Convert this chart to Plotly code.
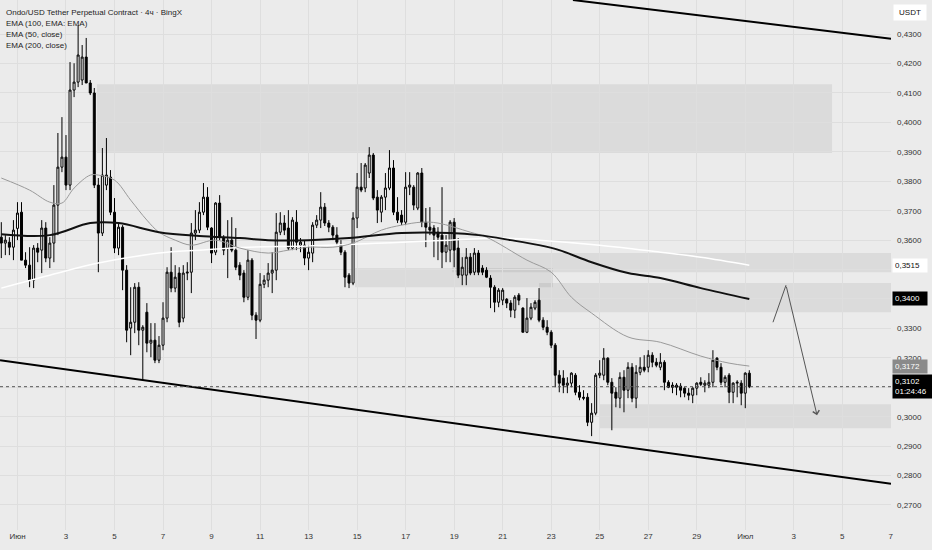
import pandas as pd
import plotly.graph_objects as go

# ONDO/USDT 4h candles (31 May 08:00 -> 1 Jul 04:00)
opens = [0.3610, 0.3590, 0.3593, 0.3576, 0.3640, 0.3695, 0.3532, 0.3515, 0.3464, 0.3573,
         0.3566, 0.3641, 0.3539, 0.3590, 0.3719, 0.3848, 0.3882, 0.3787, 0.4110, 0.4137,
         0.4144, 0.4222, 0.4134, 0.4100, 0.3787, 0.3624, 0.3787, 0.3814, 0.3695, 0.3573,
         0.3644, 0.3498, 0.3301, 0.3321, 0.3440, 0.3294, 0.3355, 0.3250, 0.3260, 0.3192,
         0.3243, 0.3335, 0.3491, 0.3437, 0.3488, 0.3335, 0.3488, 0.3491, 0.3624, 0.3634,
         0.3695, 0.3746, 0.3641, 0.3559, 0.3726, 0.3607, 0.3573, 0.3600, 0.3566, 0.3515,
         0.3488, 0.3406, 0.3532, 0.3345, 0.3328, 0.3450, 0.3464, 0.3488, 0.3498, 0.3627,
         0.3658, 0.3641, 0.3573, 0.3661, 0.3583, 0.3583, 0.3539, 0.3556, 0.3651, 0.3668,
         0.3712, 0.3658, 0.3644, 0.3617, 0.3583, 0.3559, 0.3481, 0.3454, 0.3675, 0.3780,
         0.3777, 0.3828, 0.3889, 0.3746, 0.3695, 0.3746, 0.3777, 0.3845, 0.3695, 0.3685,
         0.3661, 0.3780, 0.3780, 0.3709, 0.3828, 0.3661, 0.3644, 0.3641, 0.3627, 0.3617,
         0.3559, 0.3566, 0.3661, 0.3573, 0.3481, 0.3481, 0.3542, 0.3491, 0.3556, 0.3505,
         0.3498, 0.3471, 0.3440, 0.3389, 0.3396, 0.3399, 0.3386, 0.3362, 0.3413, 0.3369,
         0.3287, 0.3335, 0.3369, 0.3396, 0.3328, 0.3304, 0.3287, 0.3243, 0.3141, 0.3131,
         0.3107, 0.3114, 0.3141, 0.3083, 0.3066, 0.3066, 0.2981, 0.3012, 0.3141, 0.3141,
         0.3199, 0.3117, 0.3083, 0.3063, 0.3134, 0.3090, 0.3168, 0.3063, 0.3151, 0.3168,
         0.3168, 0.3209, 0.3185, 0.3168, 0.3185, 0.3117, 0.3107, 0.3100, 0.3104, 0.3097,
         0.3080, 0.3073, 0.3097, 0.3117, 0.3107, 0.3107, 0.3117, 0.3199, 0.3168, 0.3117,
         0.3141, 0.3083, 0.3114, 0.3114, 0.3080, 0.3148]
highs = [0.3661, 0.3617, 0.3610, 0.3668, 0.3729, 0.3729, 0.3559, 0.3576, 0.3583, 0.3590,
         0.3668, 0.3661, 0.3610, 0.3787, 0.3964, 0.4018, 0.3957, 0.4205, 0.4201, 0.4331,
         0.4263, 0.4287, 0.4144, 0.4117, 0.3811, 0.3913, 0.3947, 0.3838, 0.3743, 0.3661,
         0.3651, 0.3515, 0.3440, 0.3454, 0.3457, 0.3311, 0.3386, 0.3318, 0.3318, 0.3274,
         0.3389, 0.3508, 0.3576, 0.3515, 0.3508, 0.3515, 0.3525, 0.3658, 0.3702, 0.3729,
         0.3794, 0.3780, 0.3644, 0.3729, 0.3753, 0.3617, 0.3668, 0.3678, 0.3641, 0.3525,
         0.3498, 0.3566, 0.3539, 0.3355, 0.3488, 0.3481, 0.3522, 0.3559, 0.3692, 0.3695,
         0.3685, 0.3702, 0.3678, 0.3702, 0.3607, 0.3600, 0.3583, 0.3661, 0.3685, 0.3763,
         0.3726, 0.3668, 0.3651, 0.3644, 0.3600, 0.3566, 0.3488, 0.3695, 0.3828, 0.3862,
         0.3862, 0.3916, 0.3896, 0.3770, 0.3753, 0.3828, 0.3906, 0.3872, 0.3746, 0.3702,
         0.3831, 0.3831, 0.3787, 0.3831, 0.3845, 0.3709, 0.3712, 0.3651, 0.3644, 0.3780,
         0.3617, 0.3668, 0.3675, 0.3607, 0.3542, 0.3573, 0.3556, 0.3573, 0.3566, 0.3515,
         0.3508, 0.3481, 0.3447, 0.3437, 0.3437, 0.3403, 0.3396, 0.3413, 0.3420, 0.3372,
         0.3403, 0.3386, 0.3396, 0.3437, 0.3338, 0.3328, 0.3294, 0.3250, 0.3158, 0.3158,
         0.3134, 0.3151, 0.3148, 0.3107, 0.3090, 0.3080, 0.3046, 0.3148, 0.3192, 0.3233,
         0.3202, 0.3131, 0.3100, 0.3151, 0.3158, 0.3185, 0.3182, 0.3175, 0.3202, 0.3209,
         0.3226, 0.3219, 0.3199, 0.3216, 0.3192, 0.3124, 0.3117, 0.3114, 0.3114, 0.3100,
         0.3097, 0.3100, 0.3117, 0.3134, 0.3124, 0.3148, 0.3226, 0.3202, 0.3182, 0.3141,
         0.3148, 0.3117, 0.3124, 0.3124, 0.3151, 0.3158]
lows = [0.3539, 0.3549, 0.3549, 0.3532, 0.3600, 0.3532, 0.3505, 0.3440, 0.3437, 0.3525,
        0.3488, 0.3525, 0.3505, 0.3525, 0.3617, 0.3831, 0.3770, 0.3770, 0.4086, 0.4120,
        0.4127, 0.4134, 0.4093, 0.3777, 0.3491, 0.3614, 0.3770, 0.3685, 0.3556, 0.3549,
        0.3430, 0.3253, 0.3209, 0.3284, 0.3243, 0.3124, 0.3219, 0.3202, 0.3182, 0.3182,
        0.3226, 0.3321, 0.3423, 0.3423, 0.3304, 0.3321, 0.3464, 0.3420, 0.3600, 0.3624,
        0.3685, 0.3634, 0.3522, 0.3549, 0.3600, 0.3549, 0.3471, 0.3559, 0.3498, 0.3464,
        0.3389, 0.3396, 0.3328, 0.3264, 0.3321, 0.3437, 0.3440, 0.3420, 0.3464, 0.3617,
        0.3617, 0.3566, 0.3566, 0.3566, 0.3559, 0.3515, 0.3498, 0.3525, 0.3641, 0.3641,
        0.3648, 0.3627, 0.3600, 0.3583, 0.3549, 0.3440, 0.3437, 0.3447, 0.3641, 0.3763,
        0.3763, 0.3811, 0.3736, 0.3658, 0.3661, 0.3702, 0.3770, 0.3685, 0.3658, 0.3651,
        0.3651, 0.3753, 0.3702, 0.3702, 0.3644, 0.3576, 0.3617, 0.3542, 0.3532, 0.3505,
        0.3525, 0.3525, 0.3508, 0.3471, 0.3447, 0.3447, 0.3481, 0.3481, 0.3481, 0.3481,
        0.3471, 0.3369, 0.3355, 0.3372, 0.3379, 0.3369, 0.3338, 0.3335, 0.3379, 0.3287,
        0.3284, 0.3328, 0.3362, 0.3321, 0.3294, 0.3277, 0.3233, 0.3100, 0.3083, 0.3080,
        0.3080, 0.3100, 0.3073, 0.3056, 0.3056, 0.2968, 0.2934, 0.3005, 0.3131, 0.3124,
        0.3107, 0.2954, 0.3032, 0.3029, 0.3015, 0.3063, 0.3049, 0.3029, 0.3141, 0.3151,
        0.3151, 0.3168, 0.3168, 0.3158, 0.3090, 0.3097, 0.3080, 0.3073, 0.3066, 0.3066,
        0.3056, 0.3046, 0.3073, 0.3104, 0.3083, 0.3097, 0.3100, 0.3158, 0.3107, 0.3100,
        0.3046, 0.3046, 0.3066, 0.3039, 0.3029, 0.3097]
closes = [0.3590, 0.3600, 0.3576, 0.3634, 0.3692, 0.3532, 0.3515, 0.3464, 0.3573, 0.3559,
          0.3641, 0.3539, 0.3590, 0.3719, 0.3848, 0.3882, 0.3787, 0.4110, 0.4137, 0.4229,
          0.4222, 0.4134, 0.4100, 0.3787, 0.3624, 0.3821, 0.3821, 0.3695, 0.3573, 0.3644,
          0.3498, 0.3294, 0.3321, 0.3440, 0.3294, 0.3304, 0.3250, 0.3260, 0.3192, 0.3243,
          0.3335, 0.3491, 0.3437, 0.3474, 0.3321, 0.3488, 0.3491, 0.3624, 0.3634, 0.3695,
          0.3746, 0.3644, 0.3556, 0.3726, 0.3610, 0.3566, 0.3600, 0.3566, 0.3508, 0.3481,
          0.3406, 0.3532, 0.3345, 0.3328, 0.3450, 0.3464, 0.3488, 0.3498, 0.3627, 0.3658,
          0.3634, 0.3573, 0.3668, 0.3593, 0.3593, 0.3539, 0.3559, 0.3651, 0.3668, 0.3712,
          0.3658, 0.3644, 0.3617, 0.3593, 0.3559, 0.3474, 0.3454, 0.3675, 0.3780, 0.3770,
          0.3855, 0.3889, 0.3743, 0.3702, 0.3746, 0.3777, 0.3845, 0.3695, 0.3668, 0.3661,
          0.3780, 0.3787, 0.3719, 0.3828, 0.3661, 0.3644, 0.3634, 0.3617, 0.3610, 0.3559,
          0.3583, 0.3661, 0.3566, 0.3481, 0.3508, 0.3542, 0.3488, 0.3556, 0.3491, 0.3491,
          0.3474, 0.3440, 0.3389, 0.3430, 0.3430, 0.3386, 0.3362, 0.3406, 0.3396, 0.3287,
          0.3335, 0.3372, 0.3389, 0.3328, 0.3304, 0.3287, 0.3243, 0.3141, 0.3114, 0.3107,
          0.3114, 0.3148, 0.3083, 0.3066, 0.3063, 0.2981, 0.3012, 0.3141, 0.3148, 0.3199,
          0.3117, 0.3080, 0.3063, 0.3134, 0.3090, 0.3168, 0.3063, 0.3151, 0.3168, 0.3158,
          0.3209, 0.3185, 0.3175, 0.3185, 0.3117, 0.3100, 0.3100, 0.3107, 0.3090, 0.3080,
          0.3073, 0.3097, 0.3114, 0.3110, 0.3114, 0.3117, 0.3192, 0.3168, 0.3117, 0.3134,
          0.3083, 0.3114, 0.3117, 0.3080, 0.3148, 0.3102]

times = pd.date_range("2025-05-31 08:00", periods=len(closes), freq="4h")

# moving averages, sampled at candle indices
ema100_idx = [0, 12, 22, 29, 39, 49, 59, 66, 76, 86, 99, 111, 118, 126, 133, 138, 146, 155, 163, 173, 185]
ema100_val = [0.3620, 0.3617, 0.3658, 0.3658, 0.3627, 0.3614, 0.3607, 0.3600, 0.3600, 0.3607, 0.3624,
              0.3624, 0.3617, 0.3600, 0.3583, 0.3566, 0.3525, 0.3488, 0.3471, 0.3437, 0.3400]
ema50_idx = [0, 7, 12, 15, 18, 22, 24, 28, 32, 36, 39, 43, 47, 53, 59, 66, 71, 76, 82, 87, 94, 99,
             104, 108, 116, 120, 130, 136, 141, 146, 155, 163, 173, 180, 185]
ema50_val = [0.3811, 0.3770, 0.3729, 0.3726, 0.3777, 0.3821, 0.3821, 0.3804, 0.3736, 0.3668, 0.3627,
             0.3600, 0.3583, 0.3600, 0.3573, 0.3556, 0.3566, 0.3576, 0.3576, 0.3590, 0.3634, 0.3651,
             0.3661, 0.3658, 0.3627, 0.3610, 0.3532, 0.3491, 0.3406, 0.3352, 0.3271, 0.3253, 0.3206,
             0.3182, 0.3172]
ema200_idx = [0, 12, 24, 39, 49, 61, 76, 99, 111, 123, 133, 148, 163, 173, 185]
ema200_val = [0.3437, 0.3481, 0.3522, 0.3556, 0.3566, 0.3576, 0.3580, 0.3593, 0.3600, 0.3607, 0.3600,
              0.3583, 0.3559, 0.3542, 0.3515]

# drawings: channel lines, zones, projection arrow
channel_top = (["2025-06-23 21:30", "2025-07-07 00:10"], [0.4416, 0.4284])
channel_bottom = (["2025-05-31 06:43", "2025-07-07 00:10"], [0.3192, 0.2772])
zone_x0 = ["2025-06-04 06:36", "2025-06-18 21:48", "2025-06-14 21:54", "2025-06-22 11:54", "2025-06-25 00:12"]
zone_x1 = ["2025-07-04 13:54", "2025-07-07 06:00", "2025-06-23 01:48", "2025-07-07 06:00", "2025-07-07 06:00"]
zone_y0 = [0.3896, 0.3491, 0.3440, 0.3355, 0.2961]
zone_y1 = [0.4130, 0.3556, 0.3505, 0.3454, 0.3042]
arrow_x = ["2025-07-02 03:25", "2025-07-02 16:18", "2025-07-03 23:00"]
arrow_y = [0.3321, 0.3447, 0.3005]

last_price = 0.3102
price_ticks = [0.27, 0.28, 0.29, 0.30, 0.31, 0.32, 0.33, 0.34, 0.35, 0.36,
               0.37, 0.38, 0.39, 0.40, 0.41, 0.42, 0.43]
# levels hidden behind the price badges on the scale
covered_ticks = [0.31, 0.34, 0.35]
day_ticks = ["2025-06-01", "2025-06-03", "2025-06-05", "2025-06-07", "2025-06-09", "2025-06-11",
             "2025-06-13", "2025-06-15", "2025-06-17", "2025-06-19", "2025-06-21", "2025-06-23",
             "2025-06-25", "2025-06-27", "2025-06-29", "2025-07-01", "2025-07-03", "2025-07-05",
             "2025-07-07"]
day_labels = ["Июн", "3", "5", "7", "9", "11", "13", "15", "17", "19", "21", "23",
              "25", "27", "29", "Июл", "3", "5", "7"]

FONT = "Liberation Sans, Arial, sans-serif"
BG = "#ebebeb"
GRID = "#dedede"

fig = go.Figure()

fig.add_trace(go.Candlestick(
    x=times, open=opens, high=highs, low=lows, close=closes,
    increasing=dict(line=dict(color="#000000", width=1), fillcolor="#ffffff"),
    decreasing=dict(line=dict(color="#000000", width=1), fillcolor="#000000"),
    whiskerwidth=0, hoverinfo="skip", showlegend=False,
))

fig.add_trace(go.Scatter(x=times[ema200_idx], y=ema200_val, mode="lines",
                         line=dict(color="#ffffff", width=1.5, shape="spline"), hoverinfo="skip"))
fig.add_trace(go.Scatter(x=times[ema50_idx], y=ema50_val, mode="lines",
                         line=dict(color="#9a9a9a", width=1, shape="spline"), hoverinfo="skip"))
fig.add_trace(go.Scatter(x=times[ema100_idx], y=ema100_val, mode="lines",
                         line=dict(color="#111111", width=2, shape="spline"), hoverinfo="skip"))

# first leg of the projection arrow
fig.add_trace(go.Scatter(x=arrow_x[:2], y=arrow_y[:2], mode="lines",
                         line=dict(color="#555555", width=1), hoverinfo="skip"))

for x0, x1, y0, y1 in zip(zone_x0, zone_x1, zone_y0, zone_y1):
    fig.add_shape(type="rect", xref="x", yref="y", x0=x0, x1=x1, y0=y0, y1=y1,
                  fillcolor="rgba(0,0,0,0.065)", line=dict(width=0), layer="below")

for xs, ys in (channel_top, channel_bottom):
    fig.add_shape(type="line", xref="x", yref="y", x0=xs[0], x1=xs[1], y0=ys[0], y1=ys[1],
                  line=dict(color="#000000", width=2))

fig.add_shape(type="line", xref="paper", yref="y", x0=0, x1=1, y0=last_price, y1=last_price,
              line=dict(color="#555555", width=1, dash="dot"))

fig.add_annotation(x=arrow_x[2], y=arrow_y[2], ax=arrow_x[1], ay=arrow_y[1],
                   xref="x", yref="y", axref="x", ayref="y", text="", showarrow=True,
                   arrowhead=4, arrowsize=1.3, arrowwidth=1, arrowcolor="#555555", standoff=0)

# legend lines, top left
legend_lines = ["Ondo/USD Tether Perpetual Contract · 4ч · BingX",
                "EMA (100, EMA: EMA)", "EMA (50, close)", "EMA (200, close)"]
for i, txt in enumerate(legend_lines):
    fig.add_annotation(x=0, y=1, xref="paper", yref="paper", xanchor="left", yanchor="middle",
                       xshift=4, yshift=-12 - 11.3 * i, text=txt, showarrow=False,
                       font=dict(family=FONT, size=8, color="#1e1e1e"))

# price scale badges
badges = [(0.3515, "0,3515", "#ffffff", "#111111", 30),
          (0.3400, "0,3400", "#000000", "#ffffff", 30),
          (0.3172, "0,3172", "#8a8a8a", "#ffffff", 30),
          (last_price, "0,3102<br>01:24:46", "#000000", "#ffffff", 36)]
for yv, txt, bg, fg, w in badges:
    fig.add_annotation(x=1, y=yv, xref="paper", yref="y", xanchor="left", yanchor="middle",
                       xshift=1, text=txt, showarrow=False, bgcolor=bg, borderpad=2, width=w,
                       align="left", font=dict(family=FONT, size=8, color=fg))
fig.add_annotation(x=1, y=1, xref="paper", yref="paper", xanchor="left", yanchor="middle",
                   xshift=2, yshift=-12, text="USDT", showarrow=False, bgcolor="#ffffff",
                   borderpad=3, width=26, font=dict(family=FONT, size=8, color="#111111"))

fig.update_layout(
    width=932, height=550,
    margin=dict(l=0, r=41, t=0, b=20),
    paper_bgcolor=BG, plot_bgcolor=BG,
    showlegend=False, hovermode=False,
    font=dict(family=FONT, size=8, color="#333333"),
    xaxis=dict(type="date", range=["2025-05-31 06:43", "2025-07-07 00:10"],
               tickvals=day_ticks, ticktext=day_labels, showgrid=True, gridcolor=GRID,
               zeroline=False, showline=False, ticks="", rangeslider=dict(visible=False),
               tickfont=dict(family=FONT, size=8, color="#333333")),
    yaxis=dict(side="right", range=[0.2615, 0.4416], tickvals=price_ticks,
               ticktext=["" if v in covered_ticks else f"{v:.4f}".replace(".", ",")
                         for v in price_ticks],
               showgrid=True, gridcolor=GRID, zeroline=False, showline=False, ticks="",
               ticklabelstandoff=5, tickfont=dict(family=FONT, size=8, color="#333333")),
)

# the page body has a default 8px margin; drop it so the figure fills the window
fig.write_html("out.html", config={"displayModeBar": False},
               post_script="document.body.style.margin='0';")
